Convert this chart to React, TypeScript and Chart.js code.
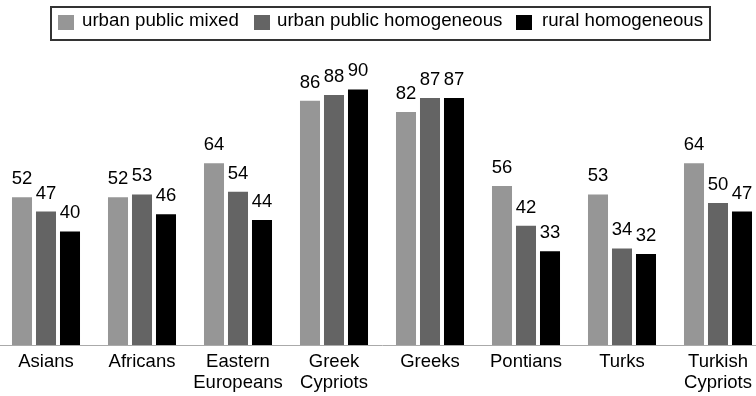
import React, { useEffect, useRef } from "react";
import { Chart, registerables } from "chart.js";

Chart.register(...registerables);

const categories: (string | string[])[] = [
  "Asians",
  "Africans",
  ["Eastern", "Europeans"],
  ["Greek", "Cypriots"],
  "Greeks",
  "Pontians",
  "Turks",
  ["Turkish", "Cypriots"],
];
const seriesNames = ["urban public mixed", "urban public homogeneous", "rural homogeneous"];
const urbanMixed = [52, 52, 64, 86, 82, 56, 53, 64];
const urbanHomogeneous = [47, 53, 54, 88, 87, 42, 34, 50];
const ruralHomogeneous = [40, 46, 44, 90, 87, 33, 32, 47];
const colors = ["#969696", "#646464", "#000000"];

const FONT = '"Liberation Sans", Arial, Helvetica, sans-serif';

const valueLabels = {
  id: "valueLabels",
  afterDatasetsDraw(chart: any) {
    const ctx = chart.ctx;
    ctx.save();
    ctx.font = `18.5px ${FONT}`;
    ctx.fillStyle = "#000";
    ctx.textAlign = "center";
    ctx.textBaseline = "alphabetic";
    chart.data.datasets.forEach((ds: any, i: number) => {
      const meta = chart.getDatasetMeta(i);
      meta.data.forEach((bar: any, j: number) => {
        ctx.fillText(String(ds.data[j]), bar.x, bar.y - 13);
      });
    });
    ctx.restore();
  },
};

export default function App() {
  const ref = useRef<HTMLCanvasElement>(null);
  useEffect(() => {
    const chart = new Chart(ref.current as HTMLCanvasElement, {
      type: "bar",
      data: {
        labels: categories,
        datasets: [urbanMixed, urbanHomogeneous, ruralHomogeneous].map((d, i) => ({
          label: seriesNames[i],
          data: d,
          backgroundColor: colors[i],
          borderWidth: 0,
          categoryPercentage: 0.75,
          barPercentage: 0.834,
        })),
      },
      options: {
        responsive: false,
        animation: false,
        devicePixelRatio: 1,
        layout: { padding: { top: 61, left: 0, right: 0, bottom: 0 } },
        plugins: { legend: { display: false }, tooltip: { enabled: false } },
        scales: {
          x: {
            grid: { display: false, drawTicks: false },
            border: { display: true, color: "#aaaaaa", width: 1 },
            ticks: {
              color: "#000",
              font: { size: 18.5, family: FONT, lineHeight: 1.14 },
              padding: 6,
              maxRotation: 0,
              autoSkip: false,
            },
            afterFit: (s: any) => {
              s.height = 51;
            },
          },
          y: {
            display: false,
            min: 0,
            max: 100,
          },
        },
      },
      plugins: [valueLabels],
    });
    return () => chart.destroy();
  }, []);

  const legendItems = [
    { sw: 58, tx: 82 },
    { sw: 254, tx: 277 },
    { sw: 516, tx: 542 },
  ];

  return (
    <div style={{ position: "absolute", left: 0, top: 0, width: 756, height: 396, overflow: "hidden", background: "#fff", fontFamily: FONT }}>
      <canvas ref={ref} width={768} height={396} style={{ position: "absolute", left: -2, top: 0, width: 768, height: 396 }} />
      <div style={{ position: "absolute", left: 50, top: 6, width: 657, height: 31, border: "2px solid #333" }} />
      {legendItems.map((it, i) => (
        <React.Fragment key={i}>
          <div style={{ position: "absolute", left: it.sw, top: 15, width: 16, height: 15, background: colors[i] }} />
          <span style={{ position: "absolute", left: it.tx, top: 10, fontSize: 18.7, lineHeight: "20px", color: "#000", whiteSpace: "nowrap" }}>
            {seriesNames[i]}
          </span>
        </React.Fragment>
      ))}
    </div>
  );
}
